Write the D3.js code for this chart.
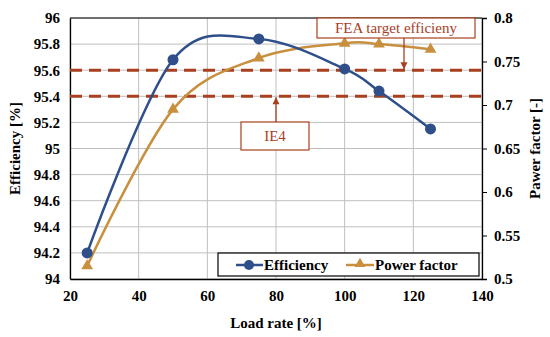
<!DOCTYPE html>
<html><head><meta charset="utf-8">
<script src="https://cdn.jsdelivr.net/npm/d3@7"></script>
<style>body{margin:0;background:#fff}svg{display:block}</style>
</head><body>
<svg id="c" width="550" height="337"></svg>
<script>
const loadRate = [25, 50, 75, 100, 110, 125];
const efficiency = [94.2, 95.68, 95.84, 95.61, 95.44, 95.15];
const powerFactor = [0.515, 0.695, 0.754, 0.771, 0.770, 0.764];
const xTicks = [20, 40, 60, 80, 100, 120, 140];
const yTicks = [94, 94.2, 94.4, 94.6, 94.8, 95, 95.2, 95.4, 95.6, 95.8, 96];
const y2Ticks = [0.5, 0.55, 0.6, 0.65, 0.7, 0.75, 0.8];
const refLines = [{name: "FEA target efficieny", value: 95.6}, {name: "IE4", value: 95.4}];

const svg = d3.select("#c");
const L = 70, R = 482, T = 18, B = 279;
const x = d3.scaleLinear().domain([20, 140]).range([L, R]);
const y = d3.scaleLinear().domain([94, 96]).range([B, T]);
const y2 = d3.scaleLinear().domain([0.5, 0.8]).range([B, T]);
const effColor = "#2f4f8a", pfColor = "#c8903e", refColor = "#a8401f";

function st(sel, size, bold) {
  return sel.style("font-family", "'Liberation Serif', Tinos, 'Times New Roman'").style("font-size", size).style("font-weight", bold ? "bold" : "normal");
}

// grid
svg.append("g").selectAll("line").data(xTicks).join("line")
  .attr("x1", d => x(d)).attr("x2", d => x(d)).attr("y1", T).attr("y2", B)
  .attr("stroke", "#bfbfbf").attr("stroke-width", 1);
svg.append("g").selectAll("line").data(yTicks).join("line")
  .attr("x1", L).attr("x2", R).attr("y1", d => y(d)).attr("y2", d => y(d))
  .attr("stroke", "#bfbfbf").attr("stroke-width", 1);

// axes
const gx = svg.append("g").attr("transform", `translate(0,${B})`)
  .call(d3.axisBottom(x).tickValues(xTicks).tickSize(0).tickPadding(11).tickFormat(d3.format("d")));
const gy = svg.append("g").attr("transform", `translate(${L},0)`)
  .call(d3.axisLeft(y).tickValues(yTicks).tickSize(0).tickPadding(10).tickFormat(d => String(+d.toFixed(1))));
const gy2 = svg.append("g").attr("transform", `translate(${R},0)`)
  .call(d3.axisRight(y2).tickValues(y2Ticks).tickSize(5).tickPadding(7).tickFormat(d => String(+d.toFixed(2))));
[gx, gy, gy2].forEach(g => {
  g.attr("font-family", null).attr("font-size", null);
  st(g.selectAll("text"), "15px", true).attr("fill", "#000");
  g.select(".domain").attr("stroke", "#000").attr("stroke-width", 1.3);
  g.selectAll(".tick line").attr("stroke", "#000");
});
svg.append("line").attr("x1", L).attr("x2", R).attr("y1", T).attr("y2", T).attr("stroke", "#000").attr("stroke-width", 1);

// axis titles
st(svg.append("text"), "15px", true).attr("x", 276).attr("y", 328).attr("text-anchor", "middle").text("Load rate [%]");
st(svg.append("text"), "15px", true).attr("transform", `translate(20,${(T + B) / 2}) rotate(-90)`).attr("text-anchor", "middle").text("Efficiency [%]");
st(svg.append("text"), "15px", true).attr("transform", `translate(540,${(T + B) / 2}) rotate(-90)`).attr("text-anchor", "middle").text("Pawer factor [-]");

// reference lines
svg.append("g").selectAll("line").data(refLines).join("line")
  .attr("x1", L).attr("x2", R).attr("y1", d => y(d.value)).attr("y2", d => y(d.value))
  .attr("stroke", refColor).attr("stroke-width", 3).attr("stroke-dasharray", "12,7");

// curves
const curve = d3.curveCardinal.tension(0);
const effPts = loadRate.map((d, i) => [x(d), y(efficiency[i])]);
const pfPts = loadRate.map((d, i) => [x(d), y2(powerFactor[i])]);
svg.append("path").attr("d", d3.line().curve(curve)(pfPts)).attr("fill", "none")
  .attr("stroke", pfColor).attr("stroke-width", 2.5);
svg.append("path").attr("d", d3.line().curve(curve)(effPts)).attr("fill", "none")
  .attr("stroke", effColor).attr("stroke-width", 2.5);
const tri = d3.symbol().type(d3.symbolTriangle).size(60);
svg.append("g").selectAll("path").data(pfPts).join("path")
  .attr("transform", d => `translate(${d[0]},${d[1]})`).attr("d", tri()).attr("fill", pfColor);
svg.append("g").selectAll("circle").data(effPts).join("circle")
  .attr("cx", d => d[0]).attr("cy", d => d[1]).attr("r", 5.5).attr("fill", effColor);

// annotations
function arrow(x0, y0, y1) {
  svg.append("line").attr("x1", x0).attr("x2", x0).attr("y1", y0).attr("y2", y1)
    .attr("stroke", refColor).attr("stroke-width", 1.3);
  const dir = y1 > y0 ? 1 : -1;
  svg.append("path").attr("d", `M${x0 - 3.5},${y1 - dir * 7}L${x0 + 3.5},${y1 - dir * 7}L${x0},${y1}Z`).attr("fill", refColor);
}
svg.append("rect").attr("x", 317).attr("y", 18).attr("width", 158).attr("height", 20)
  .attr("fill", "#fff").attr("stroke", refColor).attr("stroke-width", 1.2);
st(svg.append("text"), "15px", false).attr("x", 396).attr("y", 33).attr("text-anchor", "middle")
  .attr("fill", refColor).text(refLines[0].name);
arrow(404, 38, y(refLines[0].value) - 1);
svg.append("rect").attr("x", 241).attr("y", 122).attr("width", 68).attr("height", 28)
  .attr("fill", "#fff").attr("stroke", refColor).attr("stroke-width", 1.2);
st(svg.append("text"), "15px", false).attr("x", 275).attr("y", 141).attr("text-anchor", "middle")
  .attr("fill", refColor).text(refLines[1].name);
arrow(276, 122, y(refLines[1].value) + 1);

// legend
const lg = svg.append("g");
lg.append("rect").attr("x", 218).attr("y", 253).attr("width", 261).attr("height", 23)
  .attr("fill", "#fff").attr("stroke", "#000").attr("stroke-width", 1.2);
lg.append("line").attr("x1", 236).attr("x2", 263).attr("y1", 265).attr("y2", 265).attr("stroke", effColor).attr("stroke-width", 2.5);
lg.append("circle").attr("cx", 249).attr("cy", 265).attr("r", 5).attr("fill", effColor);
st(lg.append("text"), "15px", true).attr("x", 264).attr("y", 270).text("Efficiency");
lg.append("line").attr("x1", 346).attr("x2", 374).attr("y1", 265).attr("y2", 265).attr("stroke", pfColor).attr("stroke-width", 2.5);
lg.append("path").attr("transform", "translate(360,264)").attr("d", d3.symbol().type(d3.symbolTriangle).size(50)()).attr("fill", pfColor);
st(lg.append("text"), "15px", true).attr("x", 375).attr("y", 270).text("Power factor");
</script>
</body></html>
